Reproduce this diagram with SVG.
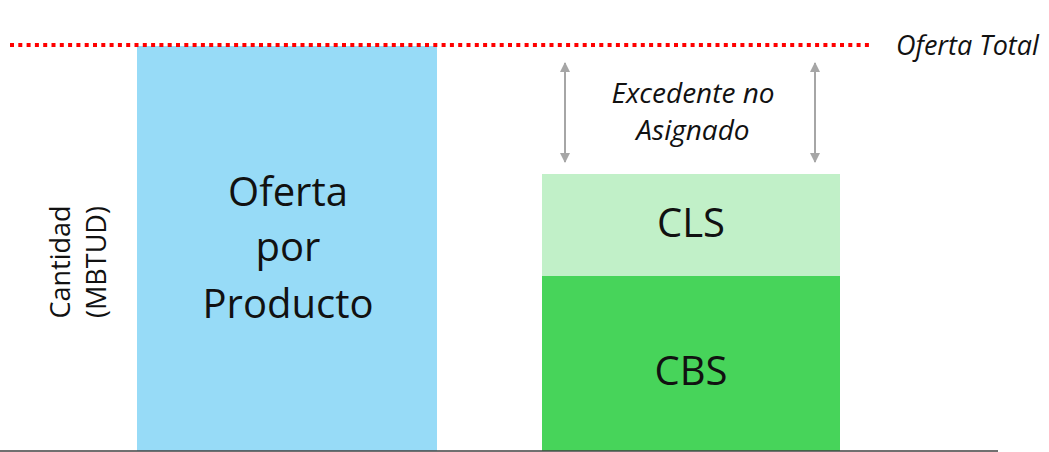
<svg xmlns="http://www.w3.org/2000/svg" width="1049" height="452" viewBox="0 0 1049 452">
<style>
.t{font-family:"Open Sans","Liberation Sans",sans-serif;fill:#111}
.big{font-size:40px}
.it{font-style:italic}
.ax{font-size:27px}
</style>
<defs>
<marker id="ah" viewBox="0 0 10 10" refX="9" refY="5" markerWidth="5" markerHeight="5" orient="auto-start-reverse">
<path d="M0,0 L10,5 L0,10 z" fill="#a6a6a6"/>
</marker>
</defs>
<rect width="1049" height="452" fill="#fff"/>
<g id="oferta-producto">
<rect x="137" y="46" width="300" height="405" fill="#97dbf7"/>
<text class="t big" x="288" y="206" text-anchor="middle">Oferta</text>
<text class="t big" x="288" y="261" text-anchor="middle">por</text>
<text class="t big" x="288" y="318" text-anchor="middle">Producto</text>
</g>
<g id="cls">
<rect x="542" y="174" width="298" height="102" fill="#c1f0c8"/>
<text class="t big" x="691" y="237" text-anchor="middle">CLS</text>
</g>
<g id="cbs">
<rect x="542" y="276" width="298" height="175" fill="#47d45a"/>
<text class="t big" x="691" y="385" text-anchor="middle">CBS</text>
</g>
<g id="oferta-total">
<text class="t it" x="896" y="55" font-size="27">Oferta Total</text>
</g>
<g id="excedente">
<text class="t it" x="693" y="103" text-anchor="middle" font-size="28">Excedente no</text>
<text class="t it" x="693" y="140" text-anchor="middle" font-size="28">Asignado</text>
</g>
<g id="eje">
<text class="t ax" transform="translate(70,262) rotate(-90)" text-anchor="middle">Cantidad</text>
<text class="t ax" transform="translate(106,262) rotate(-90)" text-anchor="middle">(MBTUD)</text>
</g>
<g id="connectors">
<line x1="10" y1="45" x2="873" y2="45" stroke="#ff0000" stroke-width="4" stroke-dasharray="4 4.3"/>
<line x1="0" y1="451" x2="998" y2="451" stroke="#404040" stroke-width="1.5"/>
<line x1="565" y1="63" x2="565" y2="162" stroke="#a6a6a6" stroke-width="2" marker-start="url(#ah)" marker-end="url(#ah)"/>
<line x1="815" y1="63" x2="815" y2="162" stroke="#a6a6a6" stroke-width="2" marker-start="url(#ah)" marker-end="url(#ah)"/>
</g>
</svg>
